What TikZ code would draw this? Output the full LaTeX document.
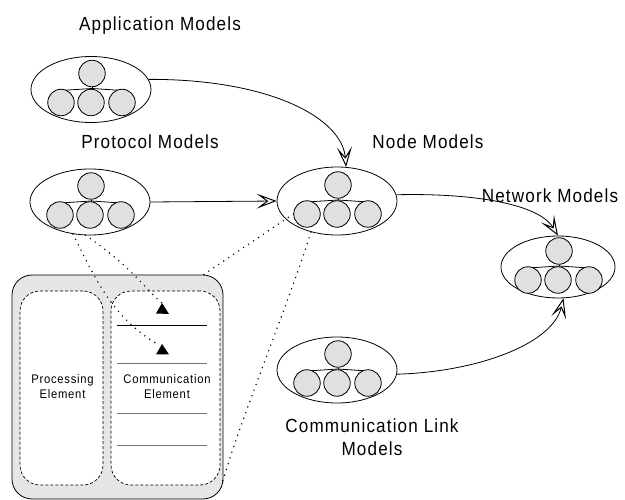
\documentclass[tikz,border=0pt]{standalone}
\usepackage{fontspec}
\setmainfont{Liberation Sans}[FakeStretch=0.9, LetterSpace=6]
\usetikzlibrary{shapes.geometric,arrows.meta}
\definecolor{ballgray}{HTML}{E0E0E0}
\definecolor{panelgray}{HTML}{E6E6E6}
\definecolor{linegray}{HTML}{707070}
\tikzset{
  model/.style={ellipse, draw, line width=0.8pt, minimum width=120pt, minimum height=66pt, inner sep=0pt},
  ball/.style={circle, draw, fill=ballgray, minimum size=26.5pt, inner sep=0pt, line width=0.8pt},
  bigtxt/.style={font=\fontsize{19}{23}\selectfont, anchor=base, inner sep=0pt},
  smalltxt/.style={font=\fontsize{12.5}{15}\selectfont, anchor=base, inner sep=0pt},
  flow/.style={line width=0.8pt, -{Stealth[open, fill=white, length=20pt, width=15pt, inset=10pt, line width=1pt]}},
  dotline/.style={line width=1.6pt, dash pattern=on 0pt off 6pt, line cap=round},
  boxdash/.style={draw, dashed, dash pattern=on 3pt off 2pt, fill=white, rounded corners=20pt, line width=0.7pt},
  tri/.style={fill=black}
}
\newcommand\modelgrp[5]{%
  \node[model,#4] (#1) at (#2,#3) {};
  \coordinate (#1j) at (#2+1,#3-1);
  \draw[line width=0.8pt] (#2-30,#3+1) -- (#1j) -- (#2+31,#3+1);
  \node[ball] (#1t) at (#2+1,#3-16) {};
  \draw[line width=0.8pt] (#1t.south) -- (#1j);
  \node[ball] (#1a) at (#2-30,#3+13) {};
  \node[ball] (#1b) at (#2,#3+13) {};
  \node[ball] (#1c) at (#2+31,#3+13) {};
}
\begin{document}
\begin{tikzpicture}[x=1pt,y=-1pt]
\useasboundingbox (0,0) rectangle (625,500);

% panel
\node[draw, fill=panelgray, rounded corners=20pt, line width=0.8pt, minimum width=211pt, minimum height=224pt, inner sep=0pt] (panel) at (117.5,387) {};
\node[boxdash, minimum width=83pt, minimum height=194pt, inner sep=0pt] (pe) at (61.5,388) {};
\node[boxdash, minimum width=109pt, minimum height=194pt, inner sep=0pt] (ce) at (165.5,388) {};
\draw[line width=0.8pt] (117,325) -- (207,325);
\draw[line width=0.9pt, linegray] (117,363) -- (207,363);
\draw[line width=0.9pt, linegray] (117,413) -- (207,413);
\draw[line width=0.9pt, linegray] (117,445) -- (207,445);
\node[smalltxt] (pet1) at (62.5,384) {Processing};
\node[smalltxt] (pet2) at (62.5,399) {Element};
\node[smalltxt] (cet1) at (167,384) {Communication};
\node[smalltxt] (cet2) at (167,399) {Element};

% model groups
\modelgrp{app}{91}{89.5}{}{}
\modelgrp{proto}{90}{202}{}{}
\modelgrp{node}{337}{201}{minimum height=68pt}{}
\modelgrp{net}{558}{267}{minimum width=114pt, minimum height=62pt}{}
\modelgrp{comm}{337}{370}{}{}

% labels
\node[bigtxt] (lapp) at (160,31) {Application Models};
\node[bigtxt] (lproto) at (150,149) {Protocol Models};
\node[bigtxt] (lnode) at (428,149) {Node Models};
\node[bigtxt] (lnet) at (550,203) {Network Models};
\node[bigtxt] (lcomm1) at (372,432) {Communication Link};
\node[bigtxt] (lcomm2) at (372,455) {Models};

% flows
\draw[flow] (app.10) .. controls (270,79) and (342,118) .. (node.75);
\draw[flow] (proto.east) -- (node.west);
\draw[flow] (node.6) .. controls (470,193) and (538,203) .. (net.north);
\draw[flow] (comm.-4) .. controls (475,372) and (552,345) .. (net.280);

% dotted links
\coordinate (t1) at (162,303);
\coordinate (t2) at (159,345);
\fill[tri] (t1) -- ++(-6,10.5) -- ++(13,0.5) -- cycle;
\fill[tri] (162,344) -- ++(-6,10.5) -- ++(13,0) -- cycle;
\draw[dotline] (proto.-98) .. controls (130,265) and (146,290) .. (t1);
\draw[dotline] (proto.-118) .. controls (95,278) and (112,318) .. (t2);
\coordinate (pt) at (203,275);
\coordinate (pb) at (222,484);
\draw[dotline] (nodea.west) -- (pt);
\draw[dotline] (node.230) .. controls (290,300) and (240,420) .. (pb);
\end{tikzpicture}
\end{document}
